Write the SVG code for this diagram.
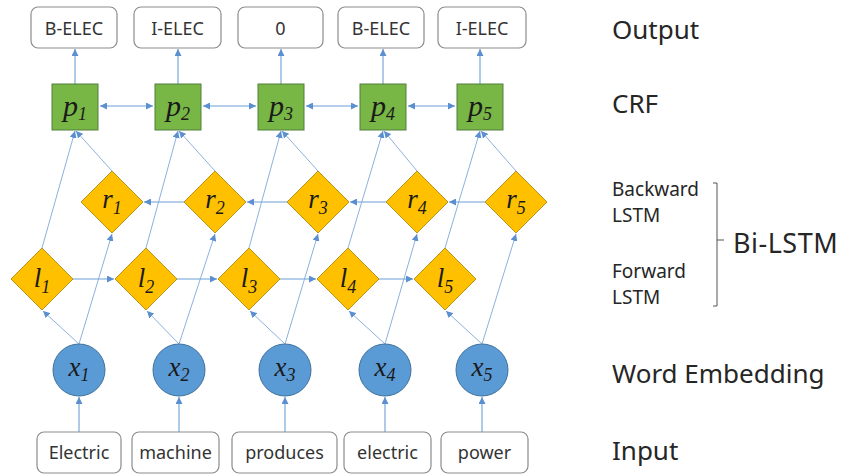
<svg xmlns="http://www.w3.org/2000/svg" width="841" height="476" viewBox="0 0 841 476">
<style>
.box{fill:#fff;stroke:#8c8c8c;stroke-width:1.2}
.bt{font-family:"Noto Sans","Liberation Sans",sans-serif;font-size:18px;fill:#333;text-anchor:middle}
.lab{font-family:"Noto Sans","Liberation Sans",sans-serif;fill:#262626}
.crf{fill:#78B646;stroke:#50803A;stroke-width:1}
.lstm{fill:#FFC000;stroke:#B89418;stroke-width:1}
.emb{fill:#5B9BD5;stroke:#41719C;stroke-width:1}
.m{font-family:"Liberation Serif","Times New Roman",serif;font-style:italic;fill:#1a1a1a;text-anchor:middle}
.big{font-size:30px}
.mid{font-size:27px}
.sub{font-size:18px}
.c{fill:none;stroke:#6A9FD4;stroke-width:1.1}
.d{fill:none;stroke:#7FA8D8;stroke-width:0.9}
</style>
<defs>
<marker id="ah" viewBox="0 0 10 10" refX="10" refY="5" markerWidth="7" markerHeight="7" markerUnits="userSpaceOnUse" orient="auto-start-reverse">
<path d="M0,0 L10,5 L0,10 z" fill="#5B8FCF"/>
</marker>
</defs>

<g id="connectors">
<line class="c" x1="75" y1="84" x2="75" y2="49" marker-end="url(#ah)"/>
<line class="c" x1="178" y1="84" x2="178" y2="49" marker-end="url(#ah)"/>
<line class="c" x1="281" y1="84" x2="281" y2="49" marker-end="url(#ah)"/>
<line class="c" x1="383" y1="84" x2="383" y2="49" marker-end="url(#ah)"/>
<line class="c" x1="480" y1="84" x2="480" y2="49" marker-end="url(#ah)"/>
<line class="c" x1="100" y1="106" x2="153" y2="106" marker-start="url(#ah)" marker-end="url(#ah)"/>
<line class="c" x1="203" y1="106" x2="256" y2="106" marker-start="url(#ah)" marker-end="url(#ah)"/>
<line class="c" x1="306" y1="106" x2="358" y2="106" marker-start="url(#ah)" marker-end="url(#ah)"/>
<line class="c" x1="408" y1="106" x2="455" y2="106" marker-start="url(#ah)" marker-end="url(#ah)"/>
<line class="c" x1="184" y1="202" x2="144" y2="202" marker-end="url(#ah)"/>
<line class="c" x1="287" y1="202" x2="247" y2="202" marker-end="url(#ah)"/>
<line class="c" x1="386" y1="202" x2="350" y2="202" marker-end="url(#ah)"/>
<line class="c" x1="485" y1="202" x2="449" y2="202" marker-end="url(#ah)"/>
<line class="c" x1="73" y1="279" x2="114" y2="279" marker-end="url(#ah)"/>
<line class="c" x1="177" y1="279" x2="217" y2="279" marker-end="url(#ah)"/>
<line class="c" x1="280" y1="279" x2="316" y2="279" marker-end="url(#ah)"/>
<line class="c" x1="379" y1="279" x2="413" y2="279" marker-end="url(#ah)"/>
<line class="d" x1="79" y1="344" x2="43" y2="311" marker-end="url(#ah)"/>
<line class="d" x1="179" y1="344" x2="147" y2="311" marker-end="url(#ah)"/>
<line class="d" x1="285" y1="344" x2="250" y2="311" marker-end="url(#ah)"/>
<line class="d" x1="385" y1="344" x2="349" y2="311" marker-end="url(#ah)"/>
<line class="d" x1="482" y1="344" x2="446" y2="311" marker-end="url(#ah)"/>
<line class="d" x1="79" y1="344" x2="112" y2="234" marker-end="url(#ah)"/>
<line class="d" x1="179" y1="344" x2="215" y2="234" marker-end="url(#ah)"/>
<line class="d" x1="285" y1="344" x2="318" y2="234" marker-end="url(#ah)"/>
<line class="d" x1="385" y1="344" x2="417" y2="234" marker-end="url(#ah)"/>
<line class="d" x1="482" y1="344" x2="516" y2="234" marker-end="url(#ah)"/>
<line class="d" x1="42" y1="248" x2="75" y2="131" marker-end="url(#ah)"/>
<line class="d" x1="146" y1="248" x2="178" y2="131" marker-end="url(#ah)"/>
<line class="d" x1="249" y1="248" x2="281" y2="131" marker-end="url(#ah)"/>
<line class="d" x1="348" y1="248" x2="383" y2="131" marker-end="url(#ah)"/>
<line class="d" x1="445" y1="248" x2="480" y2="131" marker-end="url(#ah)"/>
<line class="d" x1="112" y1="171" x2="76" y2="131" marker-end="url(#ah)"/>
<line class="d" x1="215" y1="171" x2="179" y2="131" marker-end="url(#ah)"/>
<line class="d" x1="318" y1="171" x2="282" y2="131" marker-end="url(#ah)"/>
<line class="d" x1="417" y1="171" x2="384" y2="131" marker-end="url(#ah)"/>
<line class="d" x1="516" y1="171" x2="481" y2="131" marker-end="url(#ah)"/>
<line class="c" x1="79" y1="432" x2="79" y2="397" marker-end="url(#ah)"/>
<line class="c" x1="179" y1="432" x2="179" y2="397" marker-end="url(#ah)"/>
<line class="c" x1="285" y1="432" x2="285" y2="397" marker-end="url(#ah)"/>
<line class="c" x1="385" y1="432" x2="385" y2="397" marker-end="url(#ah)"/>
<line class="c" x1="482" y1="432" x2="482" y2="397" marker-end="url(#ah)"/>
</g>

<g id="out1"><rect class="box" x="31" y="7" width="86" height="41" rx="7"/><text class="bt" x="74" y="35">B-ELEC</text></g>
<g id="out2"><rect class="box" x="134" y="7" width="87" height="41" rx="7"/><text class="bt" x="177.5" y="35">I-ELEC</text></g>
<g id="out3"><rect class="box" x="238" y="7" width="85" height="41" rx="7"/><text class="bt" x="280.5" y="35">0</text></g>
<g id="out4"><rect class="box" x="338" y="7" width="86" height="41" rx="7"/><text class="bt" x="381" y="35">B-ELEC</text></g>
<g id="out5"><rect class="box" x="438" y="7" width="88" height="41" rx="7"/><text class="bt" x="482" y="35">I-ELEC</text></g>

<g id="p1"><rect class="crf" x="52" y="84" width="46" height="46"/><text class="m big" x="75" y="116">p<tspan class="sub" dy="4">1</tspan></text></g>
<g id="p2"><rect class="crf" x="155" y="84" width="46" height="46"/><text class="m big" x="178" y="116">p<tspan class="sub" dy="4">2</tspan></text></g>
<g id="p3"><rect class="crf" x="258" y="84" width="46" height="46"/><text class="m big" x="281" y="116">p<tspan class="sub" dy="4">3</tspan></text></g>
<g id="p4"><rect class="crf" x="360" y="84" width="46" height="46"/><text class="m big" x="383" y="116">p<tspan class="sub" dy="4">4</tspan></text></g>
<g id="p5"><rect class="crf" x="457" y="84" width="46" height="46"/><text class="m big" x="480" y="116">p<tspan class="sub" dy="4">5</tspan></text></g>

<g id="r1"><path class="lstm" d="M112,171 L143,202 L112,233 L81,202 Z"/><text class="m mid" x="112" y="208">r<tspan class="sub" dy="6">1</tspan></text></g>
<g id="r2"><path class="lstm" d="M215,171 L246,202 L215,233 L184,202 Z"/><text class="m mid" x="215" y="208">r<tspan class="sub" dy="6">2</tspan></text></g>
<g id="r3"><path class="lstm" d="M318,171 L349,202 L318,233 L287,202 Z"/><text class="m mid" x="318" y="208">r<tspan class="sub" dy="6">3</tspan></text></g>
<g id="r4"><path class="lstm" d="M417,171 L448,202 L417,233 L386,202 Z"/><text class="m mid" x="417" y="208">r<tspan class="sub" dy="6">4</tspan></text></g>
<g id="r5"><path class="lstm" d="M516,171 L547,202 L516,233 L485,202 Z"/><text class="m mid" x="516" y="208">r<tspan class="sub" dy="6">5</tspan></text></g>

<g id="l1"><path class="lstm" d="M42,248 L73,279 L42,310 L11,279 Z"/><text class="m mid" x="42" y="287">l<tspan class="sub" dy="6">1</tspan></text></g>
<g id="l2"><path class="lstm" d="M146,248 L177,279 L146,310 L115,279 Z"/><text class="m mid" x="146" y="287">l<tspan class="sub" dy="6">2</tspan></text></g>
<g id="l3"><path class="lstm" d="M249,248 L280,279 L249,310 L218,279 Z"/><text class="m mid" x="249" y="287">l<tspan class="sub" dy="6">3</tspan></text></g>
<g id="l4"><path class="lstm" d="M348,248 L379,279 L348,310 L317,279 Z"/><text class="m mid" x="348" y="287">l<tspan class="sub" dy="6">4</tspan></text></g>
<g id="l5"><path class="lstm" d="M445,248 L476,279 L445,310 L414,279 Z"/><text class="m mid" x="445" y="287">l<tspan class="sub" dy="6">5</tspan></text></g>

<g id="x1"><circle class="emb" cx="79" cy="370" r="26"/><text class="m mid" x="79" y="376">x<tspan class="sub" dy="5">1</tspan></text></g>
<g id="x2"><circle class="emb" cx="179" cy="370" r="26"/><text class="m mid" x="179" y="376">x<tspan class="sub" dy="5">2</tspan></text></g>
<g id="x3"><circle class="emb" cx="285" cy="370" r="26"/><text class="m mid" x="285" y="376">x<tspan class="sub" dy="5">3</tspan></text></g>
<g id="x4"><circle class="emb" cx="385" cy="370" r="26"/><text class="m mid" x="385" y="376">x<tspan class="sub" dy="5">4</tspan></text></g>
<g id="x5"><circle class="emb" cx="482" cy="370" r="26"/><text class="m mid" x="482" y="376">x<tspan class="sub" dy="5">5</tspan></text></g>

<g id="in1"><rect class="box" x="37" y="432" width="84" height="41" rx="7"/><text class="bt" x="79" y="459">Electric</text></g>
<g id="in2"><rect class="box" x="132" y="432" width="87" height="41" rx="7"/><text class="bt" x="175.5" y="459">machine</text></g>
<g id="in3"><rect class="box" x="232" y="432" width="105" height="41" rx="7"/><text class="bt" x="284.5" y="459">produces</text></g>
<g id="in4"><rect class="box" x="344" y="432" width="87" height="41" rx="7"/><text class="bt" x="387.5" y="459">electric</text></g>
<g id="in5"><rect class="box" x="441" y="432" width="87" height="41" rx="7"/><text class="bt" x="484.5" y="459">power</text></g>

<g id="labels">
<text class="lab" x="612" y="39" font-size="26">Output</text>
<text class="lab" x="612" y="113" font-size="26">CRF</text>
<text class="lab" x="612" y="196" font-size="19">Backward</text>
<text class="lab" x="612" y="222" font-size="19">LSTM</text>
<text class="lab" x="612" y="278" font-size="19">Forward</text>
<text class="lab" x="612" y="304" font-size="19">LSTM</text>
<path d="M713,183 H717 V306 H713 M717,240 H724" fill="none" stroke="#555" stroke-width="1"/>
<text class="lab" x="733" y="253" font-size="27" letter-spacing="0.5">Bi-LSTM</text>
<text class="lab" x="612" y="383" font-size="26">Word Embedding</text>
<text class="lab" x="612" y="460" font-size="26">Input</text>
</g>
</svg>
